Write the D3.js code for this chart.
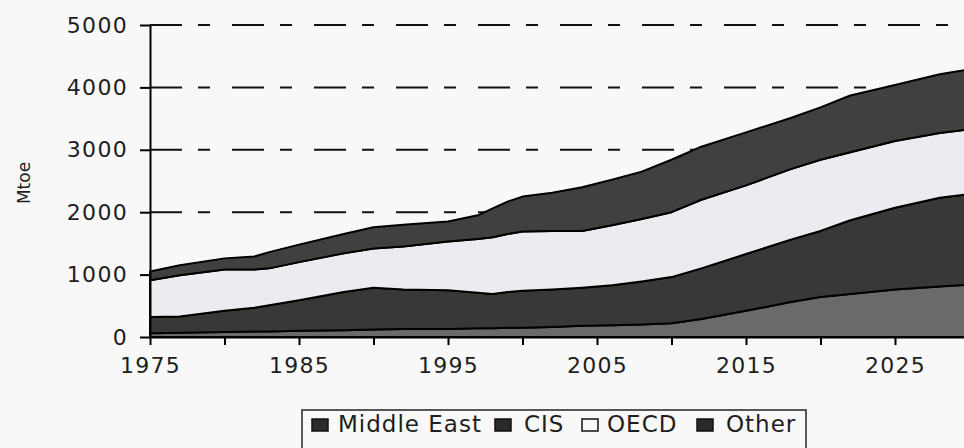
<!DOCTYPE html>
<html>
<head>
<meta charset="utf-8">
<script src="https://cdn.jsdelivr.net/npm/d3@7"></script>
<style>
	body { margin: 0; background: #f8f8f8; }
	svg { display: block; font-family: "DejaVu Sans", sans-serif; }
</style>
</head>
<body>
<svg width="964" height="448"></svg>
<script>
// gas production by region, Mtoe
const years      = [1975, 1977, 1980, 1982, 1983, 1985, 1988, 1990, 1992, 1995, 1997, 1998, 1999, 2000, 2002, 2004, 2006, 2008, 2010, 2012, 2015, 2018, 2020, 2022, 2025, 2028, 2030];
const middleEast = [  60,   70,   80,   90,   90,  100,  110,  120,  130,  130,  140,  140,  150,  150,  160,  180,  190,  200,  220,  290,  420,  560,  640,  690,  760,  810,  840];
const cis        = [ 260,  260,  340,  380,  420,  490,  610,  670,  630,  620,  570,  550,  570,  590,  600,  610,  640,  690,  740,  810,  910, 1000, 1060, 1180, 1310, 1420, 1450];
const oecd       = [ 590,  660,  660,  610,  590,  610,  620,  630,  690,  780,  860,  910,  930,  950,  940,  910,  960, 1000, 1040, 1100, 1100, 1130, 1140, 1090, 1070, 1040, 1040];
const other      = [ 140,  160,  180,  210,  260,  280,  310,  340,  350,  320,  380,  460,  520,  560,  610,  700,  730,  760,  840,  850,  850,  820,  840,  910,  900,  940,  960];

const seriesNames = ['Middle East', 'CIS', 'OECD', 'Other'];
const yTicks = [0, 1000, 2000, 3000, 4000, 5000];
const gridTicks = [1000, 2000, 3000, 4000, 5000];
const xTicks = [1975, 1980, 1985, 1990, 1995, 2000, 2005, 2010, 2015, 2020, 2025, 2030];
const xLabels = [1975, 1985, 1995, 2005, 2015, 2025];

const svg = d3.select('svg');
const width = +svg.attr('width');
const height = +svg.attr('height');

const colors = {
	'Middle East': '#6a6a6a',
	'CIS': '#383838',
	'OECD': '#ececf0',
	'Other': '#404040'
};

const rows = years.map((yr, i) => ({
	year: yr,
	'Middle East': middleEast[i],
	'CIS': cis[i],
	'OECD': oecd[i],
	'Other': other[i]
}));

const x = d3.scaleLinear()
	.domain([1975, 2030])
	.range([150, 969.5]);

const y = d3.scaleLinear()
	.domain([0, 5000])
	.range([337, 25]);

// dash-dot grid behind the areas
svg.append('g')
	.selectAll('line')
	.data(gridTicks)
	.enter()
	.append('line')
	.attr('x1', 150)
	.attr('x2', width)
	.attr('y1', d => y(d))
	.attr('y2', d => y(d))
	.attr('stroke', '#111')
	.attr('stroke-width', 2)
	.attr('stroke-dasharray', '32,16,12,22');

const stack = d3.stack().keys(seriesNames);
const layers = stack(rows);

const area = d3.area()
	.x(d => x(d.data.year))
	.y0(d => y(d[0]))
	.y1(d => y(d[1]));

svg.append('g')
	.selectAll('path')
	.data(layers)
	.enter()
	.append('path')
	.attr('d', area)
	.attr('fill', d => colors[d.key])
	.attr('stroke', '#000')
	.attr('stroke-width', 2)
	.attr('stroke-linejoin', 'round');

// axes
const yAxis = d3.axisLeft(y)
	.tickValues(yTicks)
	.tickSize(10)
	.tickSizeOuter(0)
	.tickPadding(12)
	.tickFormat(d3.format('d'));

const yag = svg.append('g')
	.attr('transform', 'translate(150,0)')
	.call(yAxis);

const xAxis = d3.axisBottom(x)
	.tickValues(xTicks)
	.tickSize(8)
	.tickSizeOuter(0)
	.tickPadding(12)
	.tickFormat(d => xLabels.includes(d) ? d : '');

const xag = svg.append('g')
	.attr('transform', 'translate(0,337)')
	.call(xAxis);

[yag, xag].forEach(g => {
	g.select('.domain').attr('stroke', '#000').attr('stroke-width', 2);
	g.selectAll('.tick line').attr('stroke', '#000').attr('stroke-width', 2);
	g.selectAll('.tick text')
		.attr('font-family', '"DejaVu Sans", sans-serif')
		.attr('font-size', 22)
		.attr('letter-spacing', 1.3)
		.attr('fill', '#1e1e1e');
});

svg.append('text')
	.attr('transform', 'translate(24,183) rotate(-90)')
	.attr('text-anchor', 'middle')
	.attr('dy', '0.35em')
	.attr('font-size', 17)
	.attr('fill', '#1e1e1e')
	.text('Mtoe');

// legend
svg.append('rect')
	.attr('x', 302)
	.attr('y', 410)
	.attr('width', 504)
	.attr('height', 60)
	.attr('fill', 'none')
	.attr('stroke', '#222')
	.attr('stroke-width', 1.5);

const legendPos = [
	{ sq: 312, tx: 338 },
	{ sq: 495, tx: 524 },
	{ sq: 582, tx: 607 },
	{ sq: 697, tx: 726 }
];

const legend = svg.append('g')
	.selectAll('g')
	.data(seriesNames)
	.enter()
	.append('g');

legend.append('rect')
	.attr('x', (d, i) => legendPos[i].sq)
	.attr('y', 419)
	.attr('width', 16)
	.attr('height', 12)
	.attr('fill', d => d === 'OECD' ? '#f8f8f8' : '#2a2a2a')
	.attr('stroke', '#111')
	.attr('stroke-width', 1.5);

legend.append('text')
	.attr('x', (d, i) => legendPos[i].tx)
	.attr('y', 432)
	.attr('font-size', 23)
	.attr('letter-spacing', 1)
	.attr('fill', '#1e1e1e')
	.text(d => d);
</script>
</body>
</html>
